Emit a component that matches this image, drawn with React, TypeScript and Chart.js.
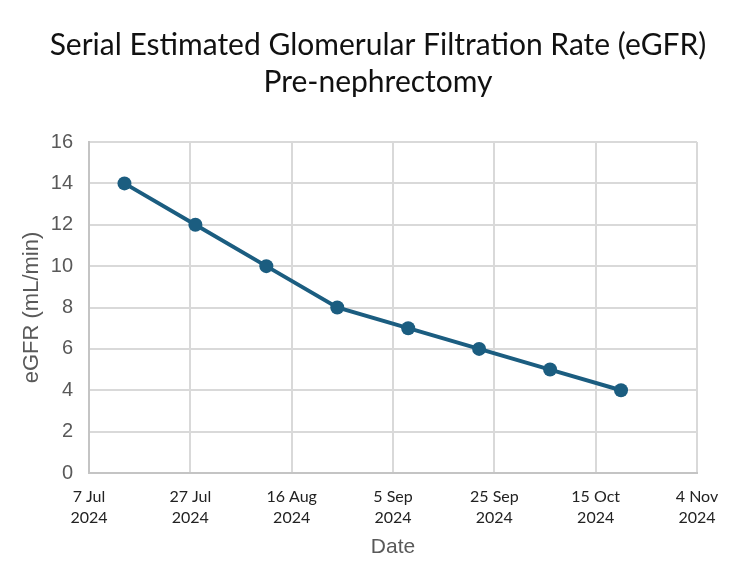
import React, { useEffect, useRef } from "react";
import { Chart, registerables } from "chart.js";

Chart.register(...registerables);

// Measurement dates and eGFR values (mL/min)
const dates = [
  "2024-07-14",
  "2024-07-28",
  "2024-08-11",
  "2024-08-25",
  "2024-09-08",
  "2024-09-22",
  "2024-10-06",
  "2024-10-20",
];
const egfr = [14, 12, 10, 8, 7, 6, 5, 4];

// X axis runs from 7 Jul 2024 to 4 Nov 2024 with a tick every 20 days
const axisStart = "2024-07-07";
const axisEnd = "2024-11-04";
const tickStepDays = 20;
const monthNames = ["Jan", "Feb", "Mar", "Apr", "May", "Jun", "Jul", "Aug", "Sep", "Oct", "Nov", "Dec"];

const DAY = 86400000;
const toMs = (s: string) => Date.parse(s + "T00:00:00Z");
const startMs = toMs(axisStart);
const dayOffset = (s: string) => Math.round((toMs(s) - startMs) / DAY);

const titleLines = ["Serial Estimated Glomerular Filtration Rate (eGFR)", "Pre-nephrectomy"];

// Two-line heading centred over the page
const headingPlugin = {
  id: "heading",
  afterDraw(chart: any) {
    const ctx = chart.ctx;
    ctx.save();
    ctx.fillStyle = "#111111";
    ctx.font = "normal 30px Lato, 'Open Sans', sans-serif";
    ctx.textAlign = "center";
    ctx.textBaseline = "middle";
    const cx = 378;
    titleLines.forEach((line, i) => ctx.fillText(line, cx, 45 + i * 37));
    ctx.restore();
  },
};

export default function App() {
  const canvasRef = useRef<HTMLCanvasElement | null>(null);

  useEffect(() => {
    if (!canvasRef.current) return;
    const points = dates.map((d, i) => ({ x: dayOffset(d), y: egfr[i] }));
    const lineColor = "#1b5d80";

    const chart = new Chart(canvasRef.current, {
      type: "line",
      data: {
        datasets: [
          {
            data: points,
            borderColor: lineColor,
            backgroundColor: lineColor,
            borderWidth: 4,
            pointRadius: 7,
            pointBackgroundColor: lineColor,
            pointBorderColor: lineColor,
            pointBorderWidth: 0,
            tension: 0,
          },
        ],
      },
      plugins: [headingPlugin],
      options: {
        animation: false,
        responsive: false,
        layout: { padding: { left: 18, right: 53, top: 142, bottom: 18 } },
        plugins: {
          legend: { display: false },
          tooltip: { enabled: false },
          title: { display: false },
        },
        scales: {
          x: {
            type: "linear",
            min: 0,
            max: dayOffset(axisEnd),
            afterBuildTicks: (scale: any) => {
              const ticks = [];
              for (let v = 0; v <= dayOffset(axisEnd); v += tickStepDays) ticks.push({ value: v });
              scale.ticks = ticks;
            },
            afterFit: (scale: any) => {
              scale.height = 87;
            },
            ticks: {
              color: "#222222",
              font: { family: "Lato, 'Open Sans', sans-serif", size: 16, lineHeight: 1.3 },
              padding: 13.6,
              maxRotation: 0,
              autoSkip: false,
              callback: (v: any) => {
                const d = new Date(startMs + Number(v) * DAY);
                return [`${d.getUTCDate()} ${monthNames[d.getUTCMonth()]}`, `${d.getUTCFullYear()}`];
              },
            },
            grid: { color: "#d9d9d9", lineWidth: 2, drawTicks: false },
            border: { color: "#c4c4c4", width: 2 },
            title: {
              display: true,
              text: "Date",
              color: "#595959",
              font: { family: "'Liberation Sans', Arial, sans-serif", size: 21, lineHeight: 1.2 },
              padding: { top: 6, bottom: 0 },
            },
          },
          y: {
            min: 0,
            max: 16,
            afterFit: (scale: any) => {
              scale.width = 71;
            },
            ticks: {
              stepSize: 2,
              color: "#595959",
              font: { family: "'Liberation Sans', Arial, sans-serif", size: 20 },
              padding: 16,
            },
            grid: { color: "#d9d9d9", lineWidth: 2, drawTicks: false },
            border: { color: "#c4c4c4", width: 2 },
            title: {
              display: true,
              text: "eGFR (mL/min)",
              color: "#595959",
              font: { family: "'Liberation Sans', Arial, sans-serif", size: 22, lineHeight: 1.2 },
              padding: { top: 1, bottom: 2 },
            },
          },
        },
      },
    });
    return () => chart.destroy();
  }, []);

  return (
    <div style={{ position: "fixed", left: 0, top: 0, width: 750, height: 578, background: "#ffffff" }}>
      <canvas ref={canvasRef} width={750} height={578} style={{ display: "block" }} />
    </div>
  );
}
